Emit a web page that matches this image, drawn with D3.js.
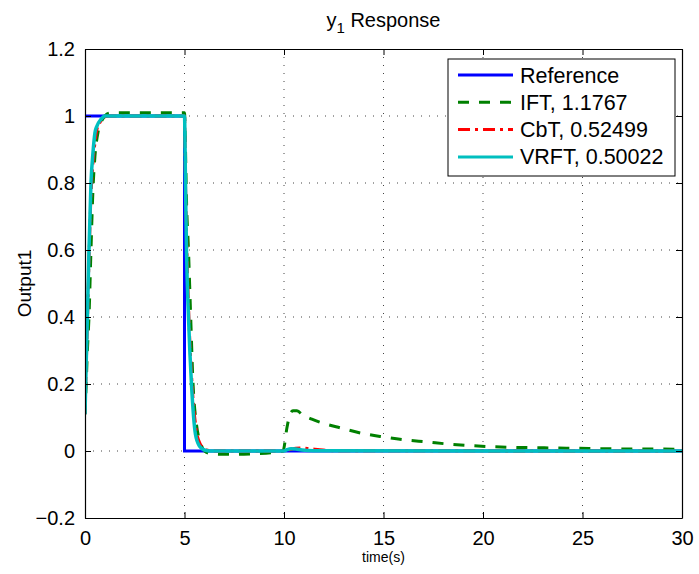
<!DOCTYPE html>
<html>
<head>
<meta charset="utf-8">
<script src="https://cdn.jsdelivr.net/npm/d3@7"></script>
<style>
  body { margin: 0; background: #fff; }
  text { font-family: "Liberation Sans", Arial, sans-serif; fill: #000; }
</style>
</head>
<body>
<div id="chart"></div>
<script>
// Time responses
const refTime = [0, 5, 5, 30];
const refValues = [1, 1, 0, 0];

const iftTime = [0, 0.06, 0.12, 0.2, 0.3, 0.4, 0.5, 0.65, 0.8, 1.0, 1.2, 1.5, 5.0,
  5.05, 5.1, 5.2, 5.3, 5.43, 5.6, 5.8, 6.0, 6.3, 6.8, 7.5, 8.5, 9.5, 9.95,
  10.15, 10.3, 10.45, 10.65, 10.95, 11.4, 11.9, 12.9, 13.9, 15.0, 16.1, 17.2,
  18.2, 19.2, 20.4, 21.5, 22.5, 23.6, 24.7, 26, 27.5, 29, 30];
const iftValues = [0.11, 0.2, 0.3, 0.4, 0.6, 0.78, 0.88, 0.95, 0.98, 1.0, 1.008, 1.01, 1.01,
  0.9, 0.75, 0.6, 0.42, 0.2, 0.08, 0.025, 0.0, -0.008, -0.01, -0.01, -0.008, -0.004, 0.0,
  0.07, 0.11, 0.12, 0.12, 0.107, 0.095, 0.084, 0.068, 0.053, 0.042, 0.033, 0.027,
  0.021, 0.017, 0.013, 0.011, 0.01, 0.009, 0.008, 0.007, 0.006, 0.006, 0.005];

const cbtTime = [0, 0.06, 0.12, 0.2, 0.3, 0.4, 0.5, 0.6, 0.8, 1.0, 1.2, 5.0,
  5.05, 5.12, 5.22, 5.38, 5.6, 5.8, 6.05, 6.4, 10.0, 10.3, 10.6, 10.9, 11.3, 11.8, 12.5, 30];
const cbtValues = [0.11, 0.25, 0.38, 0.57, 0.76, 0.86, 0.92, 0.96, 0.985, 0.997, 1.0, 1.0,
  0.8, 0.6, 0.4, 0.2, 0.06, 0.02, 0.005, 0, 0, 0.004, 0.008, 0.009, 0.007, 0.004, 0.001, 0];

const vrftTime = [0, 0.06, 0.12, 0.2, 0.3, 0.4, 0.5, 0.6, 0.8, 1.0, 1.2, 5.0,
  5.05, 5.1, 5.2, 5.35, 5.55, 5.75, 6.0, 6.3, 10.0, 10.15, 10.35, 10.6, 10.9, 11.5, 30];
const vrftValues = [0.11, 0.26, 0.4, 0.6, 0.8, 0.89, 0.95, 0.97, 0.99, 1.0, 1.0, 1.0,
  0.8, 0.6, 0.4, 0.2, 0.05, 0.015, 0.003, 0, 0, 0.004, 0.007, 0.006, 0.003, 0.001, 0];

const seriesNames = ["Reference", "IFT, 1.1767", "CbT, 0.52499", "VRFT, 0.50022"];
const xTicks = [0, 5, 10, 15, 20, 25, 30];
const yTicks = [-0.2, 0, 0.2, 0.4, 0.6, 0.8, 1, 1.2];

const margin = { top: 49, right: 17, bottom: 56, left: 85 };
const width = 699 - margin.left - margin.right;
const height = 574 - margin.top - margin.bottom;

const svgRoot = d3.select("#chart")
    .append("svg")
    .attr("width", 699)
    .attr("height", 574);

const svg = svgRoot.append("g")
    .attr("transform", `translate(${margin.left},${margin.top})`);

const x = d3.scaleLinear().domain([0, 30]).range([0, width]);
const y = d3.scaleLinear().domain([-0.2, 1.2]).range([height, 0]);

// Grid (dotted, MATLAB style)
svg.append("g").selectAll("line")
    .data(xTicks.slice(1, -1))
    .enter().append("line")
    .attr("x1", d => x(d)).attr("x2", d => x(d))
    .attr("y1", 0).attr("y2", height)
    .attr("stroke", "#444").attr("stroke-width", 1)
    .attr("stroke-dasharray", "1,7");

svg.append("g").selectAll("line")
    .data(yTicks.slice(1, -1))
    .enter().append("line")
    .attr("x1", 0).attr("x2", width)
    .attr("y1", d => y(d)).attr("y2", d => y(d))
    .attr("stroke", "#444").attr("stroke-width", 1)
    .attr("stroke-dasharray", "1,7");

// Series
const styles = [
    { t: refTime, v: refValues, color: "#0000ff", dash: null, curve: d3.curveLinear },
    { t: iftTime, v: iftValues, color: "#008000", dash: "11,10", curve: d3.curveMonotoneX },
    { t: cbtTime, v: cbtValues, color: "#ff0000", dash: "12,5,3,5", curve: d3.curveMonotoneX },
    { t: vrftTime, v: vrftValues, color: "#00bfbf", dash: null, curve: d3.curveMonotoneX }
];

svg.append("clipPath").attr("id", "clip")
    .append("rect").attr("width", width).attr("height", height);

const plot = svg.append("g").attr("clip-path", "url(#clip)");

styles.forEach((s, i) => {
    const pts = s.t.map((t, k) => [t, s.v[k]]);
    const line = d3.line().x(d => x(d[0])).y(d => y(d[1])).curve(s.curve);
    plot.append("path")
        .datum(pts)
        .attr("d", line)
        .attr("fill", "none")
        .attr("stroke", s.color)
        .attr("stroke-width", i === 3 ? 3.5 : 3)
        .attr("stroke-dasharray", s.dash);
});

// Axes box with inward ticks
const axisBottom = d3.axisBottom(x).tickValues(xTicks).tickSizeInner(-6).tickSizeOuter(0).tickPadding(13);
const axisTop = d3.axisTop(x).tickValues(xTicks).tickSizeInner(-6).tickSizeOuter(0).tickFormat("");
const axisLeft = d3.axisLeft(y).tickValues(yTicks).tickSizeInner(-6).tickSizeOuter(0).tickPadding(10)
    .tickFormat(d => d < 0 ? "\u2212" + Math.abs(d) : d3.format("")(d));
const axisRight = d3.axisRight(y).tickValues(yTicks).tickSizeInner(-6).tickSizeOuter(0).tickFormat("");

const axes = [
    svg.append("g").attr("transform", `translate(0,${height})`).call(axisBottom),
    svg.append("g").call(axisTop),
    svg.append("g").call(axisLeft),
    svg.append("g").attr("transform", `translate(${width},0)`).call(axisRight)
];
axes.forEach(g => {
    g.selectAll("path").attr("stroke", "#000").attr("stroke-width", 1.2);
    g.selectAll("line").attr("stroke", "#000").attr("stroke-width", 1);
    g.selectAll("text").style("font-size", "20px").style("font-family", "'Liberation Sans', Arial, sans-serif").attr("fill", "#000");
});

// Legend
const legend = svg.append("g").attr("transform", `translate(${448 - margin.left},${59 - margin.top})`);
legend.append("rect")
    .attr("width", 227).attr("height", 117)
    .attr("fill", "#fff").attr("stroke", "#000").attr("stroke-width", 1);

seriesNames.forEach((name, i) => {
    const yy = 16 + i * 27.3;
    legend.append("line")
        .attr("x1", 10).attr("x2", 65)
        .attr("y1", yy).attr("y2", yy)
        .attr("stroke", styles[i].color)
        .attr("stroke-width", 3)
        .attr("stroke-dasharray", styles[i].dash);
    legend.append("text")
        .attr("x", 72).attr("y", yy)
        .attr("dy", "0.35em")
        .style("font-size", "21.5px")
        .text(name);
});

// Title and axis labels
const title = svgRoot.append("text")
    .attr("x", margin.left + width / 2)
    .attr("y", 27)
    .attr("text-anchor", "middle")
    .style("font-size", "20px");
title.append("tspan").text("y");
title.append("tspan").attr("dy", 6).style("font-size", "15px").text("1");
title.append("tspan").attr("dy", -6).text(" Response");

svgRoot.append("text")
    .attr("x", margin.left + width / 2)
    .attr("y", 562)
    .attr("text-anchor", "middle")
    .style("font-size", "14px")
    .text("time(s)");

svgRoot.append("text")
    .attr("transform", `translate(31,${margin.top + height / 2}) rotate(-90)`)
    .attr("text-anchor", "middle")
    .style("font-size", "19px")
    .text("Output1");
</script>
</body>
</html>
